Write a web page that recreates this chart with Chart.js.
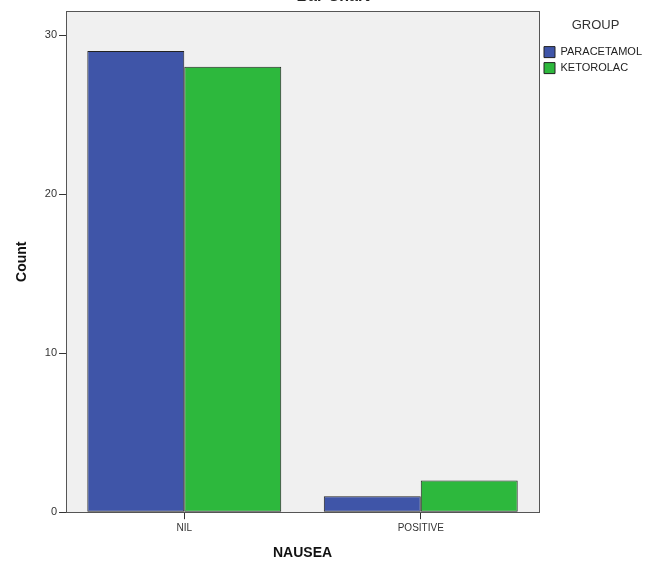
<!DOCTYPE html>
<html>
<head>
<meta charset="utf-8">
<script src="https://cdn.jsdelivr.net/npm/chart.js@4.4.1/dist/chart.umd.min.js"></script>
<style>
html,body{margin:0;padding:0;background:#fff;}
#wrap{position:relative;width:667px;height:568px;overflow:hidden;}
#c{position:absolute;left:0;top:-13px;}
</style>
</head>
<body>
<div id="wrap"><canvas id="c" width="667" height="581"></canvas></div>
<script>
const categories = ["NIL", "POSITIVE"];
const seriesNames = ["PARACETAMOL", "KETOROLAC"];
const paracetamol = [29, 1];
const ketorolac = [28, 2];
const yTicks = [0, 10, 20, 30];

const plotBg = {
  id: 'plotBg',
  beforeDraw(chart) {
    const {ctx, chartArea: a} = chart;
    ctx.save();
    ctx.fillStyle = '#f0f0f0';
    ctx.fillRect(a.left, a.top, a.right - a.left, a.bottom - a.top);
    ctx.restore();
  },
  afterDraw(chart) {
    const {ctx, chartArea: a} = chart;
    ctx.save();
    ctx.strokeStyle = '#555';
    ctx.lineWidth = 1;
    ctx.strokeRect(Math.round(a.left) + 0.5, Math.round(a.top) + 0.5, Math.round(a.right - a.left), Math.round(a.bottom - a.top));
    ctx.restore();
  }
};

new Chart(document.getElementById('c'), {
  type: 'bar',
  data: {
    labels: categories,
    datasets: [
      {label: seriesNames[0], data: paracetamol, backgroundColor: '#3f55a8', borderColor: '#222', borderWidth: 1, borderSkipped: false},
      {label: seriesNames[1], data: ketorolac, backgroundColor: '#2db83d', borderColor: '#222', borderWidth: 1, borderSkipped: false}
    ]
  },
  options: {
    responsive: false,
    animation: false,
    layout: {padding: {left: 14, right: 15, top: 0, bottom: 6}},
    datasets: {bar: {categoryPercentage: 0.82, barPercentage: 1.0}},
    plugins: {
      title: {display: true, text: 'Bar Chart', font: {family: 'Liberation Sans, Arial, sans-serif', size: 16}, color: '#222', padding: {top: 0, bottom: 5}},
      legend: {
        position: 'right',
        align: 'start',
        title: {display: true, text: 'GROUP', color: '#333', font: {family: 'Liberation Sans, Arial, sans-serif', size: 13}, padding: {top: 32, bottom: 7}},
        labels: {
          boxWidth: 11, boxHeight: 11, padding: 5,
          color: '#222',
          font: {family: 'Liberation Sans, Arial, sans-serif', size: 11}
        }
      },
      tooltip: {enabled: false}
    },
    scales: {
      x: {
        offset: true,
        grid: {display: true, offset: false, drawOnChartArea: false, drawTicks: true, tickLength: 7, color: '#333'},
        border: {display: true, color: '#444', width: 1},
        ticks: {color: '#333', font: {family: 'Liberation Sans, Arial, sans-serif', size: 10}, padding: 3},
        title: {display: true, text: 'NAUSEA', color: '#111', font: {family: 'Liberation Sans, Arial, sans-serif', size: 14, weight: 'bold'}, padding: {top: 8, bottom: 0}}
      },
      y: {
        min: 0, max: 31.5,
        afterBuildTicks(axis) { axis.ticks = yTicks.map(v => ({value: v})); },
        grid: {display: true, drawOnChartArea: false, drawTicks: true, tickLength: 7, color: '#333'},
        border: {display: true, color: '#444', width: 1},
        ticks: {color: '#333', font: {family: 'Liberation Sans, Arial, sans-serif', size: 11}, padding: 2},
        title: {display: true, text: 'Count', color: '#111', font: {family: 'Liberation Sans, Arial, sans-serif', size: 14, weight: 'bold'}, padding: {top: 0, bottom: 12}}
      }
    }
  },
  plugins: [plotBg]
});
</script>
</body>
</html>
